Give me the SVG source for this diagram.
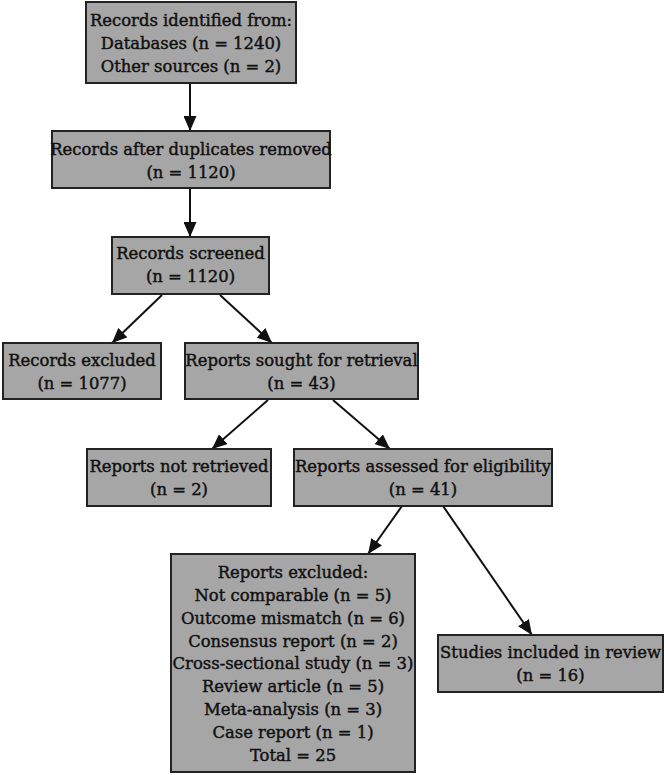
<svg xmlns="http://www.w3.org/2000/svg" width="666" height="775" viewBox="0 0 666 775">
<defs>
<style>
.box{fill:#a6a6a6;stroke:#222;stroke-width:2}
.t{font-family:"DejaVu Serif","Liberation Serif",serif;font-size:16.4px;fill:#111;stroke:#111;stroke-width:0.45;text-anchor:middle}
.e{stroke:#111;stroke-width:2;fill:none;marker-end:url(#ah)}
</style>
<marker id="ah" viewBox="0 0 15 13" refX="15" refY="6.5" markerWidth="15" markerHeight="13" markerUnits="userSpaceOnUse" orient="auto">
<path d="M0,0 L15,6.5 L0,13 z" fill="#111"/>
</marker>
</defs>
<rect width="666" height="775" fill="#fff"/>
<g id="edges">
<line class="e" x1="190" y1="83" x2="190" y2="131"/>
<line class="e" x1="190" y1="188" x2="190" y2="237"/>
<line class="e" x1="162" y1="295" x2="112" y2="343"/>
<line class="e" x1="220" y1="295" x2="272" y2="343"/>
<line class="e" x1="268" y1="400" x2="212" y2="449"/>
<line class="e" x1="333" y1="400" x2="390" y2="449"/>
<line class="e" x1="402" y1="506" x2="368" y2="554"/>
<line class="e" x1="443" y1="506" x2="532" y2="635"/>
</g>
<g id="n1"><rect class="box" x="86" y="2" width="210" height="81"/>
<text class="t" x="191" y="26">Records identified from:</text>
<text class="t" x="191" y="49">Databases (n = 1240)</text>
<text class="t" x="191" y="72">Other sources (n = 2)</text></g>
<g id="n2"><rect class="box" x="52" y="131" width="278" height="57"/>
<text class="t" x="191" y="155">Records after duplicates removed</text>
<text class="t" x="191" y="178">(n = 1120)</text></g>
<g id="n3"><rect class="box" x="112" y="237" width="157" height="57"/>
<text class="t" x="190.5" y="259">Records screened</text>
<text class="t" x="190.5" y="282">(n = 1120)</text></g>
<g id="n4"><rect class="box" x="3" y="343" width="158" height="56"/>
<text class="t" x="82" y="366">Records excluded</text>
<text class="t" x="82" y="389">(n = 1077)</text></g>
<g id="n5"><rect class="box" x="185" y="343" width="233" height="56"/>
<text class="t" x="301.5" y="366">Reports sought for retrieval</text>
<text class="t" x="301.5" y="389">(n = 43)</text></g>
<g id="n6"><rect class="box" x="87" y="449" width="184" height="57"/>
<text class="t" x="179" y="472">Reports not retrieved</text>
<text class="t" x="179" y="495">(n = 2)</text></g>
<g id="n7"><rect class="box" x="294" y="449" width="258" height="57"/>
<text class="t" x="423" y="472">Reports assessed for eligibility</text>
<text class="t" x="423" y="495">(n = 41)</text></g>
<g id="n8"><rect class="box" x="171" y="554" width="244" height="218"/>
<text class="t" x="293" y="578">Reports excluded:</text>
<text class="t" x="293" y="601">Not comparable (n = 5)</text>
<text class="t" x="293" y="624">Outcome mismatch (n = 6)</text>
<text class="t" x="293" y="647">Consensus report (n = 2)</text>
<text class="t" x="293" y="669">Cross-sectional study (n = 3)</text>
<text class="t" x="293" y="692">Review article (n = 5)</text>
<text class="t" x="293" y="715">Meta-analysis (n = 3)</text>
<text class="t" x="293" y="738">Case report (n = 1)</text>
<text class="t" x="293" y="761">Total = 25</text></g>
<g id="n9"><rect class="box" x="438" y="635" width="225" height="57"/>
<text class="t" x="550.5" y="658">Studies included in review</text>
<text class="t" x="550.5" y="681">(n = 16)</text></g>
</svg>
